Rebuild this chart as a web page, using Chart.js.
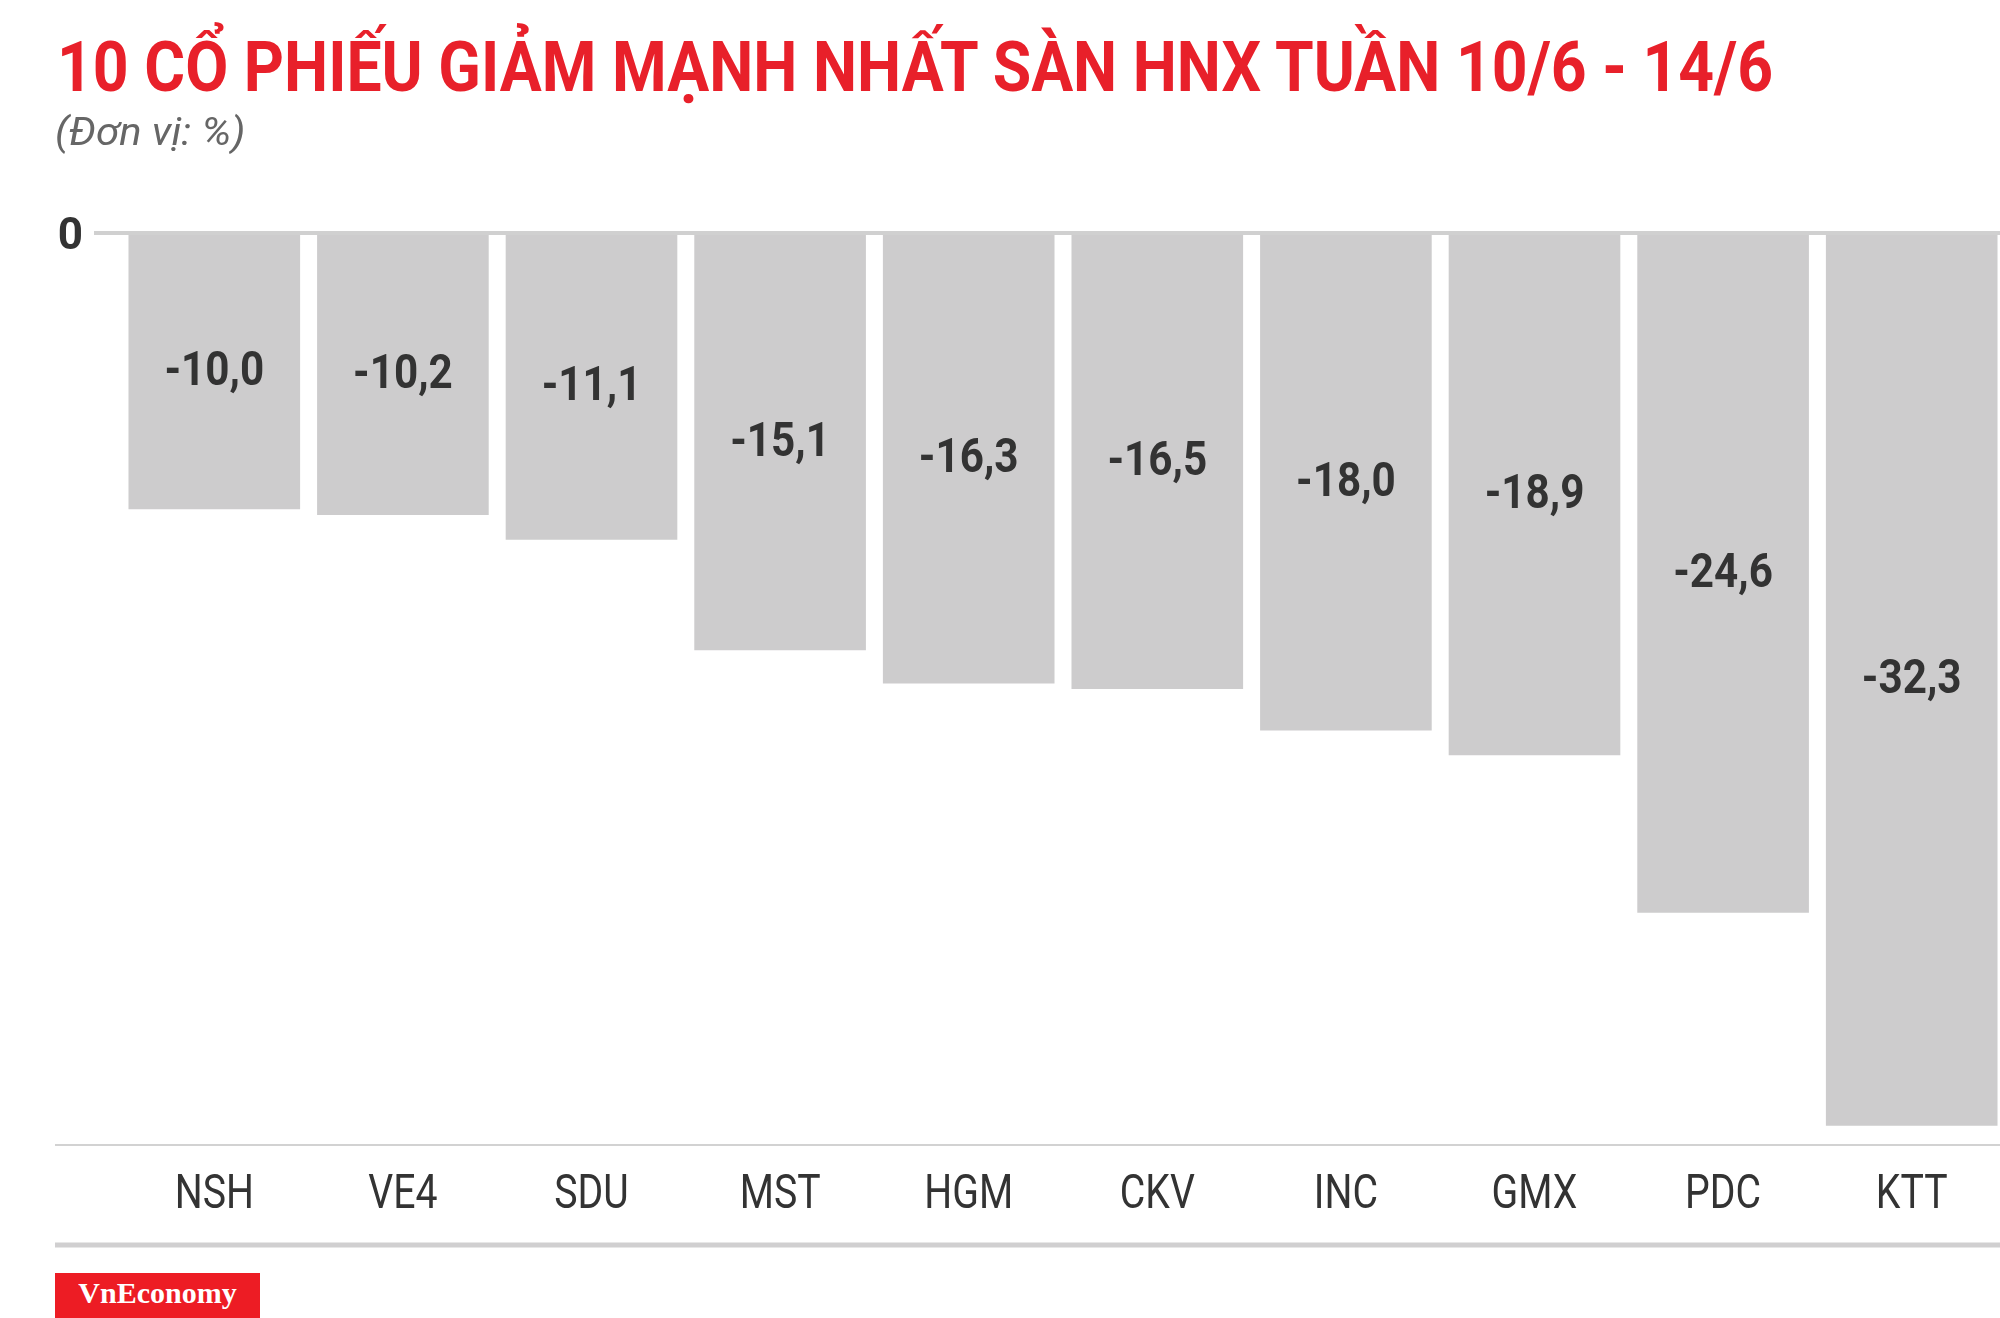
<!DOCTYPE html>
<html>
<head>
<meta charset="utf-8">
<script src="https://cdn.jsdelivr.net/npm/chart.js@4.4.1/dist/chart.umd.min.js"></script>
<style>
  html, body { margin: 0; padding: 0; background: #fff; overflow: hidden; width: 2000px; height: 1318px; }
  #wrap { position: relative; width: 2000px; height: 1318px; overflow: hidden; }
  #js_chart { position: absolute; left: 0; top: 0; }
  .title {
    position: absolute; left: 57px; top: 32px; margin: 0;
    font: bold 70px Roboto, "Noto Sans", sans-serif; line-height: 1;
    color: #e8202a; white-space: nowrap; transform-origin: 0 0;
  }
  .unit {
    position: absolute; left: 55px; top: 113px;
    font: italic 38px Roboto, "Noto Sans", sans-serif; line-height: 1;
    color: #666; white-space: nowrap; transform-origin: 0 0;
  }
  .logo {
    position: absolute; left: 55px; top: 1273px; width: 205px; height: 50px;
    background: #ed1c24; color: #fff; text-align: center;
    font: bold 30px "Liberation Serif", "DejaVu Serif", serif; line-height: 40px;
  }
</style>
</head>
<body>
<div id="wrap">
  <canvas id="js_chart" width="2006" height="1318"></canvas>
  <span class="title" id="js_title">10 CỔ PHIẾU GIẢM MẠNH NHẤT SÀN HNX TUẦN 10/6 - 14/6</span>
  <span class="unit" id="js_unit">(Đơn vị: %)</span>
  <div class="logo">VnEconomy</div>
</div>
<script>
// ticker names and weekly change (%)
const tickers = ['NSH', 'VE4', 'SDU', 'MST', 'HGM', 'CKV', 'INC', 'GMX', 'PDC', 'KTT']
const changes = [-10.0, -10.2, -11.1, -15.1, -16.3, -16.5, -18.0, -18.9, -24.6, -32.3]
const yTickValues = [0]

// squeeze the html headings to the width they take in the picture
function fitWidth(id, target) {
  const el = document.getElementById(id)
  el.style.transform = 'scaleX(' + (target / el.offsetWidth) + ')'
}
fitWidth('js_title', 1716)
fitWidth('js_unit', 190)

const fmt = v => v.toFixed(1).replace('.', ',')

// draws the value inside each bar and the ticker names under the axis
const labelPlugin = {
  id: 'labelPlugin',
  afterDatasetsDraw(chart) {
    const ctx = chart.ctx
    const meta = chart.getDatasetMeta(0)
    ctx.save()
    ctx.fillStyle = '#333'
    ctx.textAlign = 'center'
    ctx.textBaseline = 'alphabetic'
    ctx.font = 'bold 48px Roboto, "Noto Sans", sans-serif'
    meta.data.forEach((bar, i) => {
      const mid = (bar.y + bar.base) / 2 - 4
      ctx.save()
      ctx.translate(bar.x, mid + 17)
      ctx.scale(0.88, 1)
      ctx.fillText(fmt(changes[i]), 0, 0)
      ctx.restore()
    })
    ctx.font = '49px Roboto, "Noto Sans", sans-serif'
    const xs = chart.scales.x
    tickers.forEach((t, i) => {
      ctx.save()
      ctx.translate(xs.getPixelForValue(i), 1208)
      ctx.scale(0.8, 1)
      ctx.fillText(t, 0, 0)
      ctx.restore()
    })
    ctx.restore()
  },
  afterDraw(chart) {
    const ctx = chart.ctx
    ctx.save()
    ctx.strokeStyle = '#d2d2d2'
    ctx.lineWidth = 2
    ctx.beginPath()
    ctx.moveTo(55, chart.chartArea.bottom)
    ctx.lineTo(chart.width, chart.chartArea.bottom)
    ctx.stroke()
    ctx.strokeStyle = '#d0cfd0'
    ctx.lineWidth = 5
    ctx.beginPath()
    ctx.moveTo(55, 1245)
    ctx.lineTo(chart.width, 1245)
    ctx.stroke()
    ctx.restore()
  }
}

function changesChart() {
  const data = {
    labels: tickers,
    datasets: [
      {
        label: 'Thay đổi (%)',
        data: changes,
        backgroundColor: '#cdcccd',
        borderWidth: 0,
        barPercentage: 0.91,
        categoryPercentage: 1,
      }
    ]
  }

  const options = {
    responsive: false,
    maintainAspectRatio: false,
    animation: false,
    layout: {
      padding: { top: 233, left: 0, right: 0, bottom: 0 }
    },
    plugins: {
      legend: { display: false },
      tooltip: { enabled: false },
      title: { display: false },
    },
    scales: {
      x: {
        grid: { display: false },
        border: { display: false },
        ticks: { display: false },
        afterFit: scale => { scale.height = 1318 - 1145 },
      },
      y: {
        min: -33,
        max: 0,
        z: 1,
        afterBuildTicks: axis => { axis.ticks = yTickValues.map(v => ({ value: v })) },
        afterFit: scale => { scale.width = 120 },
        border: { display: false },
        grid: {
          color: '#d0d0d0',
          lineWidth: 4,
          tickLength: 26,
          drawTicks: true,
        },
        ticks: {
          padding: 11,
          labelOffset: 5,
          color: '#333',
          font: { family: 'Roboto, "Noto Sans", sans-serif', size: 44, weight: 'bold' },
          callback: v => String(v),
        },
      }
    }
  }

  const ctx = document.getElementById('js_chart').getContext('2d')
  const chart = new Chart(ctx, { type: 'bar', data, options, plugins: [labelPlugin] })
}

changesChart()
</script>
</body>
</html>
